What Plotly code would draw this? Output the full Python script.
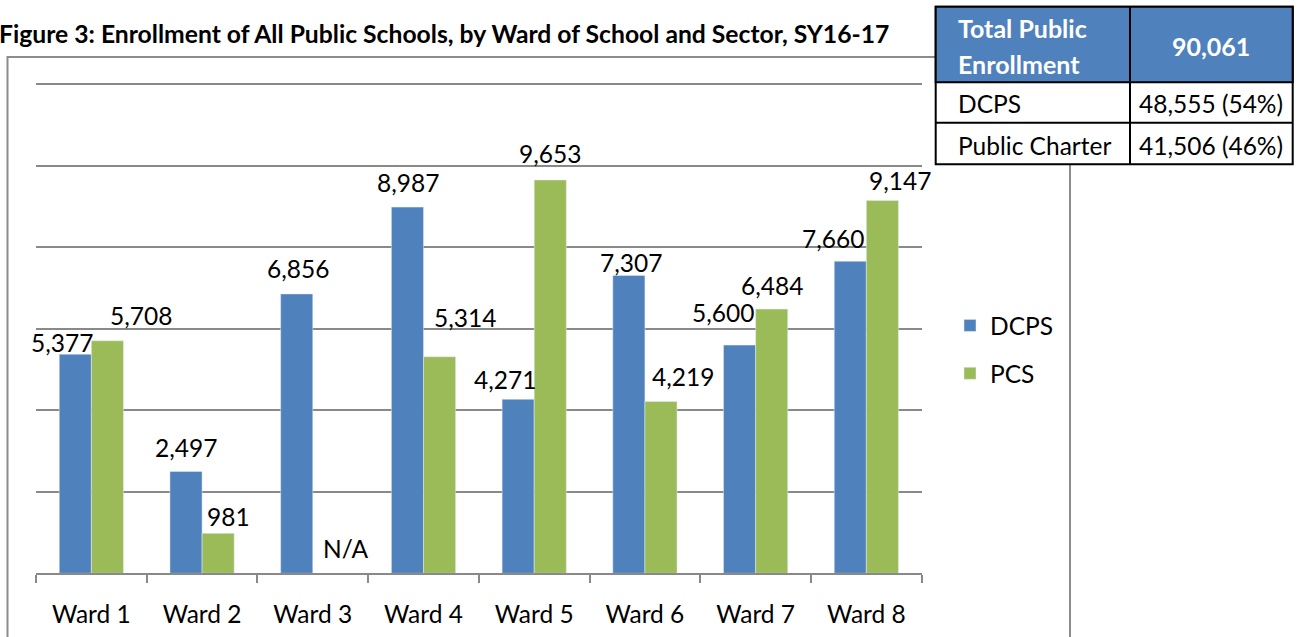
import plotly.graph_objects as go

# data
wards = ["Ward 1", "Ward 2", "Ward 3", "Ward 4", "Ward 5", "Ward 6", "Ward 7", "Ward 8"]
dcps = [5377, 2497, 6856, 8987, 4271, 7307, 5600, 7660]
pcs = [5708, 981, None, 5314, 9653, 4219, 6484, 9147]  # no charter schools in ward 3
y_ticks = [0, 2000, 4000, 6000, 8000, 10000, 12000]

title = "Figure 3: Enrollment of All Public Schools, by Ward of School and Sector, SY16-17"

# summary table (totals come from the bars)
dcps_total = sum(dcps)
pcs_total = sum(v for v in pcs if v is not None)
total = dcps_total + pcs_total
table_header = ["Total Public", "Enrollment"]
table_rows = [
    ["DCPS", f"{dcps_total:,} ({dcps_total / total:.0%})"],
    ["Public Charter", f"{pcs_total:,} ({pcs_total / total:.0%})"],
]

W, H = 1298, 637
FONT = "Lato"
FS = 24.5
blue = "#4F81BD"
green = "#9BBB59"
grid = "#898989"


def px(x):
    return x / W


def py(y):
    return 1 - y / H


fig = go.Figure()
fig.add_trace(go.Bar(x=wards, y=dcps, name="DCPS", marker_color=blue, legendgroup="a"))
fig.add_trace(go.Bar(x=wards, y=pcs, name="PCS", marker_color=green, legendgroup="b"))

# hand placed data labels (excel style), pixel offsets from the bar top
dcps_dx = [-29, -16, -15, -15, -29, -14, -33, -33]
dcps_dy = [12, 24, 25, 25, 20, 13, 33, 23]
pcs_dx = [50, 26, 33, 42, 16, 38, 16, 34]
pcs_dy = [25, 17, 25, 39, 26, 25, 24, 20]

annotations = []
for i, w in enumerate(wards):
    annotations.append(dict(x=w, y=dcps[i], xref="x", yref="y", text=f"{dcps[i]:,}",
                            showarrow=False, xshift=dcps_dx[i], yshift=dcps_dy[i],
                            yanchor="middle", font=dict(family=FONT, size=FS, color="black")))
    v = pcs[i]
    annotations.append(dict(x=w, y=v if v is not None else 0, xref="x", yref="y",
                            text=f"{v:,}" if v is not None else "N/A",
                            showarrow=False, xshift=pcs_dx[i], yshift=pcs_dy[i],
                            yanchor="middle", font=dict(family=FONT, size=FS, color="black")))

annotations.append(dict(x=0, y=py(33), xref="paper", yref="paper", text="<b>" + title + "</b>",
                        showarrow=False, xanchor="left", yanchor="middle", xshift=-3,
                        font=dict(family=FONT, size=24.7, color="black")))

# table
tx0, tx1, tmid = 935.7, 1292.7, 1130
ty0, thead, trow, ty1 = 6.7, 82.3, 122.7, 164.3
shapes = [
    # chart frame, bottom runs off the page
    dict(type="rect", xref="paper", yref="paper", x0=px(7.5), x1=px(1070), y0=py(57), y1=py(660),
         line=dict(color="#8c8c8c", width=2), fillcolor="rgba(0,0,0,0)"),
    dict(type="rect", xref="paper", yref="paper", x0=px(tx0), x1=px(tx1), y0=py(ty0), y1=py(ty1),
         line=dict(color="black", width=2), fillcolor="white"),
    dict(type="rect", xref="paper", yref="paper", x0=px(tx0), x1=px(tx1), y0=py(ty0), y1=py(thead),
         line=dict(color="black", width=2), fillcolor=blue),
    dict(type="line", xref="paper", yref="paper", x0=px(tx0), x1=px(tx1), y0=py(trow), y1=py(trow),
         line=dict(color="black", width=2)),
    dict(type="line", xref="paper", yref="paper", x0=px(tmid), x1=px(tmid), y0=py(ty0), y1=py(ty1),
         line=dict(color="black", width=2)),
]

for j, line in enumerate(table_header):
    annotations.append(dict(x=px(956), y=py(28 + 36 * j), xref="paper", yref="paper",
                            text=f"<b>{line}</b>", showarrow=False, xanchor="left", yanchor="middle",
                            font=dict(family=FONT, size=25, color="white")))
annotations.append(dict(x=px((tmid + tx1) / 2), y=py(46), xref="paper", yref="paper",
                        text=f"<b>{total:,}</b>", showarrow=False, xanchor="center", yanchor="middle",
                        font=dict(family=FONT, size=25, color="white")))
for j, (lab, val) in enumerate(table_rows):
    yc = 103 + 42 * j
    annotations.append(dict(x=px(956), y=py(yc), xref="paper", yref="paper", text=lab,
                            showarrow=False, xanchor="left", yanchor="middle",
                            font=dict(family=FONT, size=FS, color="black")))
    annotations.append(dict(x=px((tmid + tx1) / 2), y=py(yc), xref="paper", yref="paper", text=val,
                            showarrow=False, xanchor="center", yanchor="middle",
                            font=dict(family=FONT, size=FS, color="black")))

fig.update_layout(
    width=W, height=H,
    margin=dict(l=0, r=0, t=0, b=0),
    paper_bgcolor="white", plot_bgcolor="white",
    barmode="group", bargap=0.42, bargroupgap=0,
    font=dict(family=FONT, size=FS, color="black"),
    showlegend=True,
    legend=dict(x=px(950), y=py(303), xanchor="left", yanchor="top",
                font=dict(family=FONT, size=FS), tracegroupgap=13, bgcolor="rgba(0,0,0,0)"),
    xaxis=dict(domain=[px(36), px(921.7)], range=[-0.5, len(wards) - 0.5],
               showline=True, linecolor=grid, linewidth=1.5,
               ticks="outside", tickson="boundaries", ticklen=8, tickcolor=grid, tickwidth=1.5,
               showgrid=False, ticklabelstandoff=19, tickfont=dict(family=FONT, size=FS)),
    # range a hair above 12000 so the top gridline is kept
    yaxis=dict(domain=[py(573.3), py(82.3)], range=[0, 12050], tickvals=y_ticks,
               showticklabels=False, showgrid=True, gridcolor=grid, gridwidth=1.5,
               zeroline=False, showline=False),
    shapes=shapes,
    annotations=annotations,
)

# the page's default 8px body margin would shift everything
fig.write_html("out.html", config={"displayModeBar": False},
               post_script="document.body.style.margin='0';")
